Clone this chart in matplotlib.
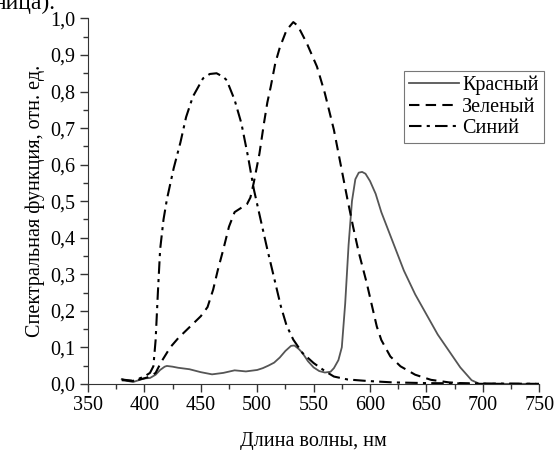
import matplotlib
matplotlib.use("Agg")
import matplotlib.pyplot as plt
from matplotlib.ticker import MultipleLocator, FuncFormatter

plt.rcParams['font.family'] = ['Liberation Serif', 'DejaVu Serif']
plt.rcParams['font.size'] = 14.5

# spectral sensitivity curves, relative units
red_wl = [380, 385, 390, 395, 400, 405, 410, 414, 418, 420, 425, 430, 440, 450, 460, 470,
          480, 490, 500, 505, 510, 515, 520, 525, 530, 533, 537, 540, 545, 550, 555, 560,
          565, 568, 572, 575, 578, 581, 584, 587, 590, 593, 596, 600, 605, 610, 620, 630,
          640, 650, 660, 670, 680, 690, 697, 720, 750]
red_val = [0.013, 0.008, 0.005, 0.010, 0.015, 0.016, 0.025, 0.038, 0.047, 0.049, 0.047, 0.044,
           0.040, 0.032, 0.026, 0.030, 0.037, 0.034, 0.038, 0.043, 0.050, 0.058, 0.072, 0.090,
           0.104, 0.105, 0.095, 0.085, 0.062, 0.045, 0.035, 0.031, 0.033, 0.043, 0.065, 0.10,
           0.22, 0.38, 0.50, 0.56, 0.578, 0.58, 0.575, 0.555, 0.52, 0.47, 0.39, 0.31, 0.245,
           0.19, 0.135, 0.09, 0.045, 0.01, 0.0, 0.0, 0.0]

green_wl = [380, 390, 400, 405, 410, 415, 420, 423, 430, 440, 450, 456, 461, 465, 470, 475,
            480, 485, 491, 494, 497, 502, 506, 509, 512, 516, 520, 526, 532, 536, 544, 553,
            560, 568, 574, 580, 585, 590, 597, 602, 606, 610, 618, 627, 640, 654, 670, 690, 750]
green_val = [0.012, 0.008, 0.015, 0.02, 0.03, 0.06, 0.085, 0.10, 0.125, 0.155, 0.185, 0.21,
             0.258, 0.31, 0.368, 0.43, 0.47, 0.48, 0.492, 0.51, 0.551, 0.63, 0.713, 0.77,
             0.813, 0.877, 0.92, 0.968, 0.99, 0.98, 0.932, 0.868, 0.795, 0.695, 0.60, 0.505,
             0.43, 0.36, 0.277, 0.21, 0.157, 0.12, 0.075, 0.048, 0.025, 0.011, 0.004, 0.0, 0.0]

blue_wl = [380, 390, 400, 405, 408, 410, 412, 414, 417, 420, 426, 432, 437, 443, 452, 458,
           464, 470, 473, 480, 486, 492, 497, 503, 509, 515, 521, 526, 532, 540, 550, 560,
           568, 580, 597, 620, 650, 700, 750]
blue_val = [0.01, 0.008, 0.02, 0.03, 0.048, 0.12, 0.25, 0.368, 0.45, 0.505, 0.59, 0.661,
            0.73, 0.786, 0.836, 0.848, 0.85, 0.84, 0.831, 0.777, 0.713, 0.62, 0.533, 0.45,
            0.368, 0.29, 0.212, 0.16, 0.121, 0.085, 0.057, 0.035, 0.02, 0.012, 0.008, 0.004,
            0.002, 0.001, 0.0]

labels = ['Красный', 'Зеленый', 'Синий']

fig = plt.figure(figsize=(5.6, 4.5), dpi=100)
ax = fig.add_axes([0.157, 0.147, 0.806, 0.812])

ax.plot(red_wl, red_val, color='#555555', lw=1.3, label=labels[0])
ax.plot(green_wl, green_val, color='black', lw=1.5, dashes=(5, 3), label=labels[1])
ax.plot(blue_wl, blue_val, color='black', lw=1.5, dashes=(6, 2.5, 1.5, 2.5), label=labels[2])

ax.set_xlim(350, 750)
ax.set_ylim(0, 1.0)
ax.xaxis.set_major_locator(MultipleLocator(50))
ax.xaxis.set_minor_locator(MultipleLocator(25))
ax.yaxis.set_major_locator(MultipleLocator(0.1))
ax.yaxis.set_minor_locator(MultipleLocator(0.05))
ax.yaxis.set_major_formatter(FuncFormatter(lambda v, p: f"{v:.1f}".replace('.', ',')))

for side in ['top', 'right']:
    ax.spines[side].set_visible(False)
for side in ['left', 'bottom']:
    ax.spines[side].set_color('#333333')
ax.tick_params(which='major', direction='out', length=6, width=1, color='#333333', pad=3)
ax.tick_params(which='minor', direction='out', length=3.5, width=1, color='#333333')

ax.set_xlabel('Длина волны, нм', labelpad=12)
ax.set_ylabel('Спектральная функция, отн. ед.', labelpad=4)

leg = ax.legend(loc='upper right', bbox_to_anchor=(1.01, 0.857), fancybox=False,
                edgecolor='#777777', framealpha=1, handlelength=2.5, handletextpad=0.15,
                borderpad=0.25, labelspacing=0.12, borderaxespad=0)
leg.get_frame().set_linewidth(0.8)

# tail of the text above the figure
fig.text(-0.012, 1 - 9 / 450, 'ница).', fontsize=17, va='baseline', ha='left')

fig.savefig('out.png', dpi=100)
